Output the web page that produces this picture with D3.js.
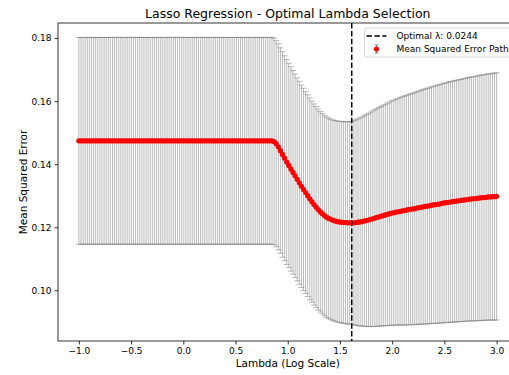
<!DOCTYPE html>
<html>
<head>
<meta charset="utf-8">
<script src="https://cdn.jsdelivr.net/npm/d3@7"></script>
<style>
  html, body { margin: 0; padding: 0; background: #fff; }
  svg { display: block; font-family: "DejaVu Sans", sans-serif; }
</style>
</head>
<body>
<svg id="chart" width="509" height="375"></svg>
<script>
// Cross-validated Lasso path: log10 lambda grid from -1 to 3 (200 steps)
const logLambdaStart = -1;
const logLambdaEnd = 3;
const nLambdas = 200;

// Mean cross-validation MSE for each lambda on the grid
const mseMean = [
  0.1474,0.1474,0.1474,0.1474,0.1474,0.1474,0.1474,0.1474,0.1474,0.1474,
  0.1474,0.1474,0.1474,0.1474,0.1474,0.1474,0.1474,0.1474,0.1474,0.1474,
  0.1474,0.1474,0.1474,0.1474,0.1474,0.1474,0.1474,0.1474,0.1474,0.1474,
  0.1474,0.1474,0.1474,0.1474,0.1474,0.1474,0.1474,0.1474,0.1474,0.1474,
  0.1474,0.1474,0.1474,0.1474,0.1474,0.1474,0.1474,0.1474,0.1474,0.1474,
  0.1474,0.1474,0.1474,0.1474,0.1474,0.1474,0.1474,0.1474,0.1474,0.1474,
  0.1474,0.1474,0.1474,0.1474,0.1474,0.1474,0.1474,0.1474,0.1474,0.1474,
  0.1474,0.1474,0.1474,0.1474,0.1474,0.1474,0.1474,0.1474,0.1474,0.1474,
  0.1474,0.1474,0.1474,0.1474,0.1474,0.1474,0.1474,0.1474,0.1474,0.1474,
  0.1474,0.1474,0.1474,0.1472,0.1465,0.1455,0.1443,0.1431,0.1419,0.1407,
  0.1396,0.1385,0.1374,0.1363,0.1352,0.1341,0.1330,0.1320,0.1310,0.1300,
  0.1290,0.1281,0.1272,0.1264,0.1256,0.1249,0.1243,0.1237,0.1232,0.1228,
  0.1225,0.1222,0.1220,0.1218,0.1217,0.1216,0.1215,0.1215,0.1214,0.1214,
  0.1214,0.1214,0.1215,0.1216,0.1217,0.1218,0.1220,0.1221,0.1223,0.1225,
  0.1227,0.1229,0.1231,0.1233,0.1235,0.1237,0.1239,0.1241,0.1243,0.1245,
  0.1246,0.1248,0.1249,0.1250,0.1252,0.1253,0.1254,0.1256,0.1257,0.1258,
  0.1259,0.1261,0.1262,0.1263,0.1265,0.1266,0.1267,0.1268,0.1270,0.1271,
  0.1272,0.1273,0.1274,0.1276,0.1277,0.1278,0.1279,0.1280,0.1281,0.1282,
  0.1283,0.1284,0.1285,0.1286,0.1287,0.1288,0.1289,0.1290,0.1290,0.1291,
  0.1292,0.1293,0.1294,0.1294,0.1295,0.1296,0.1296,0.1297,0.1297,0.1298
];

// Standard deviation of the fold MSEs (error bar half-height)
const mseStd = [
  0.0328,0.0328,0.0328,0.0328,0.0328,0.0328,0.0328,0.0328,0.0328,0.0328,
  0.0328,0.0328,0.0328,0.0328,0.0328,0.0328,0.0328,0.0328,0.0328,0.0328,
  0.0328,0.0328,0.0328,0.0328,0.0328,0.0328,0.0328,0.0328,0.0328,0.0328,
  0.0328,0.0328,0.0328,0.0328,0.0328,0.0328,0.0328,0.0328,0.0328,0.0328,
  0.0328,0.0328,0.0328,0.0328,0.0328,0.0328,0.0328,0.0328,0.0328,0.0328,
  0.0328,0.0328,0.0328,0.0328,0.0328,0.0328,0.0328,0.0328,0.0328,0.0328,
  0.0328,0.0328,0.0328,0.0328,0.0328,0.0328,0.0328,0.0328,0.0328,0.0328,
  0.0328,0.0328,0.0328,0.0328,0.0328,0.0328,0.0328,0.0328,0.0328,0.0328,
  0.0328,0.0328,0.0328,0.0328,0.0328,0.0328,0.0328,0.0328,0.0328,0.0328,
  0.0328,0.0328,0.0328,0.0328,0.0327,0.0327,0.0326,0.0326,0.0325,0.0325,
  0.0324,0.0324,0.0323,0.0323,0.0322,0.0322,0.0321,0.0321,0.0320,0.0320,
  0.0320,0.0319,0.0319,0.0319,0.0319,0.0318,0.0318,0.0318,0.0318,0.0318,
  0.0318,0.0318,0.0318,0.0319,0.0319,0.0319,0.0320,0.0320,0.0321,0.0321,
  0.0322,0.0324,0.0326,0.0328,0.0330,0.0332,0.0334,0.0336,0.0338,0.0340,
  0.0342,0.0344,0.0345,0.0347,0.0348,0.0350,0.0351,0.0353,0.0354,0.0356,
  0.0357,0.0358,0.0359,0.0361,0.0362,0.0363,0.0364,0.0365,0.0366,0.0367,
  0.0368,0.0369,0.0370,0.0371,0.0372,0.0373,0.0374,0.0374,0.0375,0.0376,
  0.0377,0.0378,0.0378,0.0379,0.0380,0.0380,0.0381,0.0382,0.0382,0.0383,
  0.0383,0.0384,0.0384,0.0385,0.0385,0.0386,0.0386,0.0387,0.0387,0.0388,
  0.0388,0.0389,0.0389,0.0390,0.0390,0.0390,0.0391,0.0391,0.0392,0.0392
];

// Selected regularisation strength
const optimalLambda = 0.0244;

const xTicks = [-1.0, -0.5, 0.0, 0.5, 1.0, 1.5, 2.0, 2.5, 3.0];
const yTicks = [0.10, 0.12, 0.14, 0.16, 0.18];

const titleText = "Lasso Regression - Optimal Lambda Selection";
const xLabelText = "Lambda (Log Scale)";
const yLabelText = "Mean Squared Error";
const legendLabels = ["Optimal \u03bb: " + optimalLambda.toFixed(4), "Mean Squared Error Path"];

// ---- build records ----
const logLambda = d3.range(nLambdas).map(i => logLambdaStart + (logLambdaEnd - logLambdaStart) * i / (nLambdas - 1));
const points = logLambda.map((x, i) => ({ x, mean: mseMean[i], std: mseStd[i] }));

// ---- layout ----
const svg = d3.select("#chart");
const plot = { left: 58, right: 517.5, top: 23, bottom: 341 };

// 5% padding on both axes
const xExt = d3.extent(logLambda);
const xPad = (xExt[1] - xExt[0]) * 0.05;
const yLo = d3.min(points, d => d.mean - d.std);
const yHi = d3.max(points, d => d.mean + d.std);
const yPad = (yHi - yLo) * 0.05;

const x = d3.scaleLinear().domain([xExt[0] - xPad, xExt[1] + xPad]).range([plot.left, plot.right]);
const y = d3.scaleLinear().domain([yLo - yPad, yHi + yPad]).range([plot.bottom, plot.top]);

// ---- error bars ----
const capHalf = 3;
const eb = svg.append("g").attr("class", "errorbars")
  .attr("stroke", "#808080").attr("stroke-opacity", 0.55).attr("stroke-width", 1);
const ebItem = eb.selectAll("g").data(points).join("g");
ebItem.append("line")
  .attr("x1", d => x(d.x)).attr("x2", d => x(d.x))
  .attr("y1", d => y(d.mean + d.std)).attr("y2", d => y(d.mean - d.std));
ebItem.append("line")
  .attr("x1", d => x(d.x) - capHalf).attr("x2", d => x(d.x) + capHalf)
  .attr("y1", d => y(d.mean + d.std)).attr("y2", d => y(d.mean + d.std));
ebItem.append("line")
  .attr("x1", d => x(d.x) - capHalf).attr("x2", d => x(d.x) + capHalf)
  .attr("y1", d => y(d.mean - d.std)).attr("y2", d => y(d.mean - d.std));

// ---- mean markers ----
svg.append("g").attr("class", "markers")
  .selectAll("circle").data(points).join("circle")
  .attr("cx", d => x(d.x)).attr("cy", d => y(d.mean))
  .attr("r", 2.6).attr("fill", "red");

// ---- optimal lambda line ----
const optX = x(-Math.log10(optimalLambda));
svg.append("line")
  .attr("x1", optX).attr("x2", optX)
  .attr("y1", plot.top).attr("y2", plot.bottom)
  .attr("stroke", "black").attr("stroke-width", 1.5)
  .attr("stroke-dasharray", "5.5,2.4");

// ---- axes ----
const xAxis = d3.axisBottom(x).tickValues(xTicks).tickSize(3.5).tickPadding(3)
  .tickFormat(d => d3.format(".1f")(d).replace("-", "\u2212"));
const yAxis = d3.axisLeft(y).tickValues(yTicks).tickSize(3.5).tickPadding(3)
  .tickFormat(d3.format(".2f"));

const gx = svg.append("g").attr("transform", `translate(0,${plot.bottom})`).call(xAxis);
const gy = svg.append("g").attr("transform", `translate(${plot.left},0)`).call(yAxis);
[gx, gy].forEach(g => {
  g.select(".domain").remove();
  g.selectAll(".tick line").attr("stroke", "#000").attr("stroke-width", 0.8);
  g.selectAll(".tick text").attr("fill", "#000").attr("font-size", 9)
    .attr("font-family", "DejaVu Sans, sans-serif");
});

// spines
svg.append("rect")
  .attr("x", plot.left).attr("y", plot.top)
  .attr("width", plot.right - plot.left).attr("height", plot.bottom - plot.top)
  .attr("fill", "none").attr("stroke", "#000").attr("stroke-width", 0.8);

// ---- titles ----
const cx = (plot.left + plot.right) / 2;
svg.append("text").attr("x", cx).attr("y", 17.5)
  .attr("text-anchor", "middle").attr("font-size", 12.5).attr("fill", "#000")
  .text(titleText);
svg.append("text").attr("x", cx).attr("y", 367)
  .attr("text-anchor", "middle").attr("font-size", 10.5).attr("fill", "#000")
  .text(xLabelText);
svg.append("text")
  .attr("transform", `translate(27,${(plot.top + plot.bottom) / 2}) rotate(-90)`)
  .attr("text-anchor", "middle").attr("font-size", 10.5).attr("fill", "#000")
  .text(yLabelText);

// ---- legend ----
const lg = svg.append("g").attr("transform", `translate(${plot.right - 5},${plot.top + 5})`);
const lgW = 148, lgH = 29;
lg.append("rect").attr("x", -lgW).attr("y", 0).attr("width", lgW).attr("height", lgH)
  .attr("rx", 2.5).attr("fill", "white").attr("fill-opacity", 0.8)
  .attr("stroke", "#cccccc").attr("stroke-width", 0.8);
const row1 = 8, row2 = 21;
const keyX = -lgW + 12;
lg.append("line").attr("x1", keyX - 10).attr("x2", keyX + 10)
  .attr("y1", row1).attr("y2", row1)
  .attr("stroke", "black").attr("stroke-width", 1.5).attr("stroke-dasharray", "5.5,2.4");
lg.append("line").attr("x1", keyX).attr("x2", keyX).attr("y1", row2 - 4).attr("y2", row2 + 4)
  .attr("stroke", "#808080").attr("stroke-width", 1);
[row2 - 4, row2 + 4].forEach(yy => lg.append("line")
  .attr("x1", keyX - 2).attr("x2", keyX + 2).attr("y1", yy).attr("y2", yy)
  .attr("stroke", "#808080").attr("stroke-width", 1));
lg.append("circle").attr("cx", keyX).attr("cy", row2).attr("r", 2.6).attr("fill", "red");
lg.selectAll("text.lbl").data(legendLabels).join("text").attr("class", "lbl")
  .attr("x", keyX + 20).attr("y", (d, i) => (i === 0 ? row1 : row2) + 3.3)
  .attr("font-size", 9).attr("fill", "#000").text(d => d);
</script>
</body>
</html>
